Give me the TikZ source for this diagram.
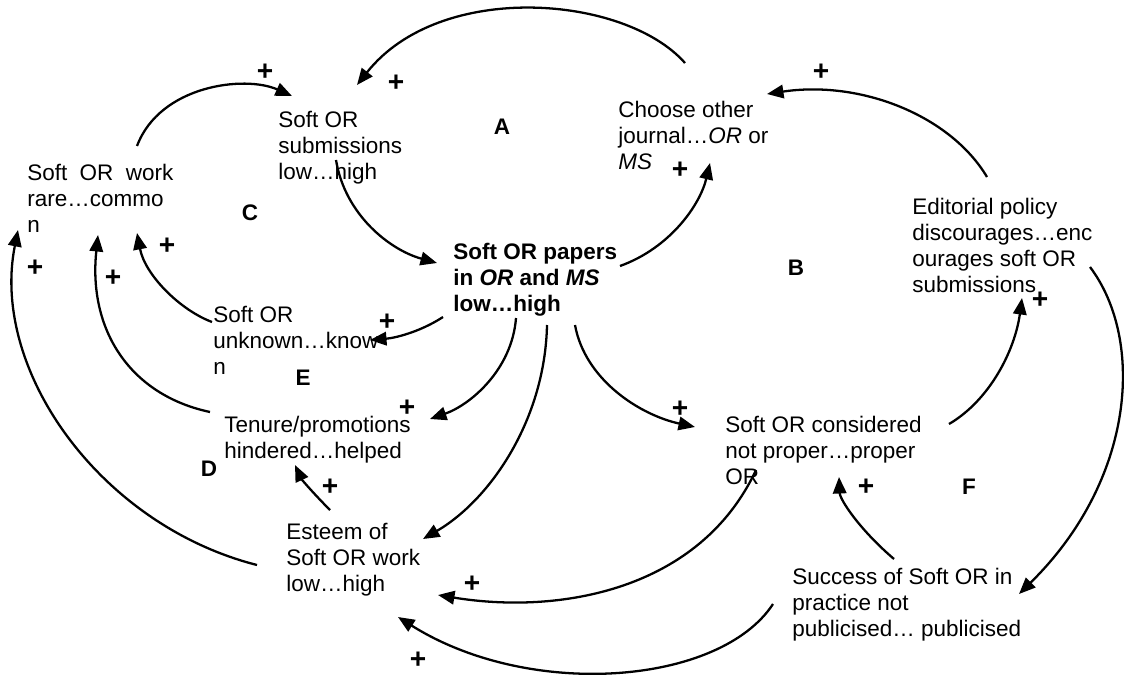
\documentclass[tikz,border=0pt]{standalone}
\usepackage{fontspec}
\setmainfont{Liberation Sans}
\usetikzlibrary{arrows.meta}

\tikzset{
    var/.style={anchor=north west, align=left, inner sep=0pt, font=\fontsize{12.8}{14.8}\selectfont},
    keyvar/.style={var, font=\fontsize{12.8}{14.8}\selectfont\bfseries},
    sign/.style={inner sep=0pt, font=\fontsize{16}{18}\selectfont\bfseries},
    loopname/.style={inner sep=0pt, font=\fontsize{12.8}{14.8}\selectfont\bfseries},
    link/.style={-{Triangle[length=0.33cm, width=0.27cm]}, line width=1.3pt}
}

\begin{document}
\begin{tikzpicture}[x=0.02cm, y=-0.02cm]
    \useasboundingbox (0,0) rectangle (1124,675);

    \node[var](Work) at (27,164) {Soft\hspace{0.55em}OR\hspace{0.55em}work\\rare…commo\\n};
    \node[var](Sub) at (278,111) {Soft OR\\submissions\\low…high};
    \node[var](Choose) at (618,101) {Choose other\\journal…\textit{OR} or\\\textit{MS}};
    \node[keyvar](Papers) at (453,243) {Soft OR papers\\in \textit{OR} and \textit{MS}\\low…high};
    \node[var](Editorial) at (912,198) {Editorial policy\\discourages…enc\\ourages soft OR\\submissions};
    \node[var](Unknown) at (213,306) {Soft OR\\unknown…know\\n};
    \node[var](Tenure) at (224,416) {Tenure/promotions\\hindered…helped};
    \node[var](Considered) at (725,416) {Soft OR considered\\not proper…proper\\OR};
    \node[var](Esteem) at (286,523) {Esteem of\\Soft OR work\\low…high};
    \node[var](Success) at (792,568) {Success of Soft OR in\\practice not\\publicised… publicised};

    \node[loopname](L_A) at (502,127) {A};
    \node[loopname](L_B) at (796,268) {B};
    \node[loopname](L_C) at (250,213) {C};
    \node[loopname](L_D) at (209,469) {D};
    \node[loopname](L_E) at (303,378) {E};
    \node[loopname](L_F) at (969,487) {F};

    \node[sign](S_1) at (265,72) {+};
    \node[sign](S_2) at (396,83) {+};
    \node[sign](S_3) at (680,170) {+};
    \node[sign](S_4) at (821,72) {+};
    \node[sign](S_5) at (1040,300) {+};
    \node[sign](S_6) at (167,246) {+};
    \node[sign](S_7) at (35,268) {+};
    \node[sign](S_8) at (113,278) {+};
    \node[sign](S_9) at (387,322) {+};
    \node[sign](S_10) at (407,408) {+};
    \node[sign](S_11) at (680,409) {+};
    \node[sign](S_12) at (330,487) {+};
    \node[sign](S_13) at (866,487) {+};
    \node[sign](S_14) at (472,584) {+};
    \node[sign](S_15) at (418,660) {+};

    \draw[link] ([shift={(110,-18)}]Work.north west) .. controls (160,85) and (245,75) .. ([shift={(14,-15)}]Sub.north west);
    \draw[link] ([shift={(67,-38)}]Choose.north west) .. controls (625,-5) and (440,-20) .. ([shift={(79,-26)}]Sub.north west);
    \draw[link] ([shift={(58,49)}]Sub.north west) .. controls (345,215) and (390,250) .. ([shift={(-16,20)}]Papers.north west);
    \draw[link] ([shift={(167,23)}]Papers.north west) .. controls (670,248) and (700,205) .. ([shift={(92,62)}]Choose.north west);
    \draw[link] ([shift={(75,-21)}]Editorial.north west) .. controls (950,115) and (860,80) .. ([shift={(149,-7)}]Choose.north west);
    \draw[link] ([shift={(-10,74)}]Papers.north west) .. controls (420,332) and (395,338) .. ([shift={(157,34)}]Unknown.north west);
    \draw[link] ([shift={(63,75)}]Papers.north west) .. controls (512,370) and (470,405) .. ([shift={(206,3)}]Tenure.north west);
    \draw[link] ([shift={(94,82)}]Papers.north west) .. controls (545,420) and (490,500) .. ([shift={(137,16)}]Esteem.north west);
    \draw[link] ([shift={(122,82)}]Papers.north west) .. controls (585,380) and (640,415) .. ([shift={(-30,11)}]Considered.north west);
    \draw[link] ([shift={(224,8)}]Considered.north west) .. controls (990,400) and (1015,350) .. ([shift={(110,100)}]Editorial.north west);
    \draw[link] ([shift={(178,69)}]Editorial.north west) .. controls (1145,340) and (1135,480) .. ([shift={(227,26)}]Success.north west);
    \draw[link] ([shift={(102,-9)}]Success.north west) .. controls (860,530) and (840,500) .. ([shift={(114,61)}]Considered.north west);
    \draw[link] ([shift={(31,54)}]Considered.north west) .. controls (700,590) and (560,615) .. ([shift={(152,72)}]Esteem.north west);
    \draw[link] ([shift={(-19,36)}]Success.north west) .. controls (720,685) and (530,700) .. ([shift={(112,94)}]Esteem.north west);
    \draw[link] ([shift={(44,-13)}]Esteem.north west) .. controls (315,495) and (302,480) .. ([shift={(71,49)}]Tenure.north west);
    \draw[link] ([shift={(-1,16)}]Unknown.north west) .. controls (180,310) and (145,275) .. ([shift={(110,69)}]Work.north west);
    \draw[link] ([shift={(-14,-4)}]Tenure.north west) .. controls (130,395) and (88,330) .. ([shift={(71,71)}]Work.north west);
    \draw[link] ([shift={(-29,42)}]Esteem.north west) .. controls (100,525) and (-10,370) .. ([shift={(-9,66)}]Work.north west);
\end{tikzpicture}
\end{document}
